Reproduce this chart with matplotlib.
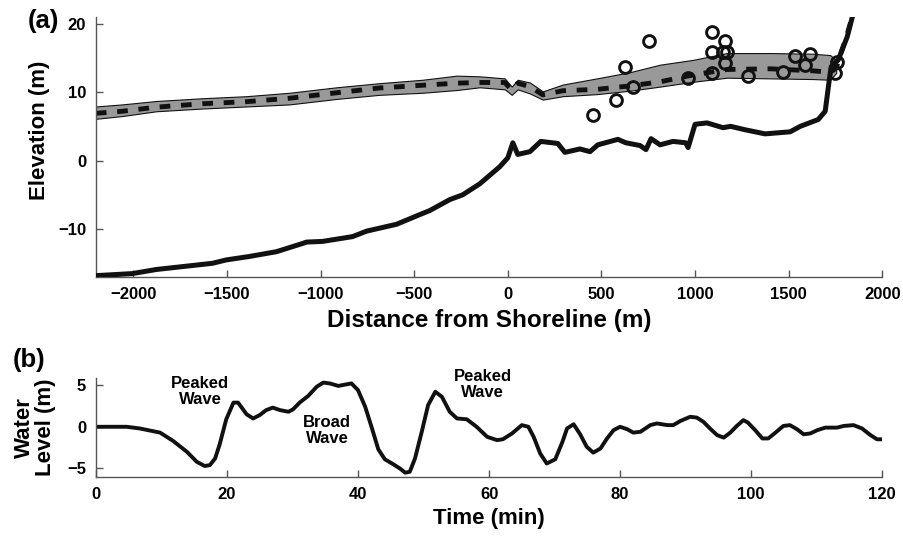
import matplotlib
matplotlib.use('Agg')
import matplotlib.pyplot as plt
import numpy as np

plt.rcParams['font.family'] = ['Liberation Sans', 'DejaVu Sans']
plt.rcParams['font.weight'] = 'bold'
plt.rcParams['axes.labelweight'] = 'bold'

# ---- panel (a): cross-shore profile ----
topo_x = [-2200, -2005, -1877, -1578, -1503, -1380, -1235, -1096, -1075, -989,
          -829, -754, -594, -471, -417, -310, -241, -150, -43, 0, 27, 53, 118,
          176, 267, 305, 385, 439, 481, 588, 630, 706, 738, 765, 813, 882, 950,
          963, 1000, 1064, 1150, 1190, 1267, 1374, 1508, 1562, 1658, 1695,
          1717, 1727, 1765, 1813, 1845]
topo_y = [-16.8, -16.5, -15.9, -15.0, -14.5, -14.0, -13.3, -12.1, -11.9, -11.8,
          -11.1, -10.3, -9.3, -7.9, -7.3, -5.7, -5.0, -3.4, -0.9, 0.4, 2.6, 0.9,
          1.3, 2.8, 2.5, 1.2, 1.7, 1.3, 2.3, 3.1, 2.6, 2.2, 1.6, 3.2, 2.3, 2.8,
          2.6, 1.9, 5.3, 5.5, 4.8, 5.0, 4.5, 3.9, 4.2, 5.0, 6.0, 7.2,
          11.8, 13.7, 14.7, 18.1, 21.5]

band_x = [-2200, -2059, -1877, -1631, -1396, -1166, -914, -685, -455, -273,
          -150, -16, 21, 53, 118, 187, 294, 476, 652, 813, 989, 1171, 1401,
          1631, 1722, 1754]
band_hi = [7.9, 8.2, 8.7, 9.1, 9.4, 9.9, 10.7, 11.3, 11.8, 12.4,
           12.3, 12.0, 10.8, 11.8, 11.4, 10.1, 11.1, 12.0, 12.9, 14.0, 14.7,
           15.7, 15.7, 15.6, 15.4, 14.6]
band_lo = [6.1, 6.5, 7.2, 7.6, 7.9, 8.2, 9.0, 9.6, 9.9, 10.3,
           10.7, 10.4, 9.6, 10.4, 9.8, 8.9, 9.4, 9.7, 10.2, 10.8, 11.5,
           12.1, 12.0, 11.9, 11.8, 12.8]

mean_x = [-2200, -2059, -1877, -1631, -1396, -1166, -914, -685, -455, -273,
          -150, -16, 21, 53, 118, 187, 294, 476, 652, 813, 989, 1171, 1401,
          1631, 1722, 1754, 1776, 1802, 1845]
mean_y = [6.9, 7.2, 7.8, 8.3, 8.6, 9.1, 9.9, 10.6, 11.0, 11.3,
          11.4, 11.4, 10.3, 11.3, 10.8, 9.6, 10.2, 10.4, 10.9, 11.5, 12.5,
          13.3, 13.4, 13.1, 12.9, 13.5, 15.5, 17.5, 21.5]

obs_x = [455, 578, 626, 668, 754, 963, 1091, 1091, 1091, 1150, 1171, 1160,
         1160, 1284, 1471, 1535, 1588, 1615, 1749, 1760]
obs_y = [6.7, 8.8, 13.6, 10.8, 17.5, 12.1, 18.7, 15.8, 12.8, 15.8, 15.8, 17.4,
         14.3, 12.3, 13.0, 15.2, 14.0, 15.5, 12.8, 14.4]

# ---- panel (b): water level time series ----
t_min = [0, 4.7, 6.7, 9.8, 11.8, 13.9, 15.4, 16.6, 17.4, 18.2, 18.9, 19.9,
         21.0, 21.7, 23.0, 24.0, 25.0, 26.0, 27.0, 28.1, 29.4, 30.1, 31.1,
         32.4, 33.7, 34.7, 35.7, 37.0, 38.3, 39.0, 40.0, 41.1, 42.1, 43.1,
         44.1, 45.4, 46.4, 47.2, 47.9, 48.7, 49.7, 50.7, 51.8, 52.8, 54.0,
         55.1, 56.6, 58.1, 59.7, 61.2, 62.1, 63.5, 65.0, 66.0, 66.8, 67.8,
         68.8, 70.1, 71.2, 71.9, 72.9, 73.9, 74.9, 75.9, 77.0, 78.0, 79.0,
         80.0, 81.1, 82.0, 83.1, 84.6, 85.6, 87.2, 88.1, 89.2, 90.7, 91.7,
         92.7, 93.7, 94.8, 95.8, 96.8, 97.8, 98.8, 99.5, 100.6, 101.7, 102.6,
         103.7, 104.9, 105.9, 107.0, 108.0, 109.0, 110.1, 111.3, 113.1, 114.1,
         115.6, 116.9, 118.2, 119.2, 120.0]
level = [0, 0, -0.2, -0.7, -1.7, -3.0, -4.2, -4.7, -4.6, -3.8, -2.1, 0.9,
         2.9, 2.9, 1.5, 1.0, 1.4, 2.0, 2.3, 2.0, 1.8, 2.1, 2.9,
         3.7, 4.8, 5.3, 5.2, 4.9, 5.1, 5.2, 4.4, 2.4, -0.1, -2.7,
         -3.9, -4.5, -5.0, -5.5, -5.4, -3.8, -0.7, 2.6, 4.2, 3.6, 1.8,
         1.0, 0.9, 0.0, -1.2, -1.6, -1.5, -0.8, 0.2, 0.0, -1.2, -3.2,
         -4.4, -3.9, -1.8, -0.2, 0.3, -0.9, -2.4, -3.1, -2.6, -1.4, -0.4,
         0.0, -0.3, -0.7, -0.6, 0.2, 0.4, 0.2, 0.2, 0.7, 1.2, 1.1,
         0.6, -0.2, -1.0, -1.3, -0.7, 0.1, 0.8, 0.5, -0.4, -1.4, -1.4,
         -0.7, 0.1, 0.2, -0.3, -0.9, -0.8, -0.4, -0.1, -0.1, 0.1,
         0.2, -0.2, -1.0, -1.5, -1.5]

notes = ['Peaked\nWave', 'Broad\nWave', 'Peaked\nWave']
note_t = [15.9, 35.3, 59.0]
note_y = [4.2, -0.4, 5.1]


def style_axes(ax):
    for side in ('top', 'right'):
        ax.spines[side].set_visible(False)
    for side in ('left', 'bottom'):
        ax.spines[side].set_color('#555555')
        ax.spines[side].set_linewidth(1.0)
    ax.tick_params(direction='in', length=5, width=1, color='#555555',
                   labelsize=12, pad=7)
    for lbl in ax.get_xticklabels() + ax.get_yticklabels():
        lbl.set_fontweight('bold')


fig = plt.figure(figsize=(9.04, 5.4), dpi=100)

ax1 = fig.add_axes([0.106, 0.487, 0.870, 0.482])
ax1.fill_between(band_x, band_lo, band_hi, facecolor='#999999',
                 edgecolor='#111111', linewidth=0.8, zorder=1)
ax1.plot(mean_x, mean_y, color='#111111', linewidth=3.5,
         dashes=(2.2, 2.2), dash_capstyle='butt', zorder=2)
ax1.plot(topo_x, topo_y, color='#111111', linewidth=3.6, zorder=3)
ax1.plot(obs_x, obs_y, linestyle='none', marker='o', markersize=8.5,
         markerfacecolor='none', markeredgecolor='#111111',
         markeredgewidth=2.1, zorder=4)
ax1.set_xlim(-2200, 2000)
ax1.set_ylim(-17, 21)
ax1.set_xticks(np.arange(-2000, 2001, 500))
ax1.set_yticks([-10, 0, 10, 20])
ax1.set_xlabel('Distance from Shoreline (m)', fontsize=17.5, labelpad=5)
ax1.set_ylabel('Elevation (m)', fontsize=16)
ax1.yaxis.set_label_coords(-0.0585, 0.565)
style_axes(ax1)

ax2 = fig.add_axes([0.106, 0.117, 0.870, 0.183])
ax2.plot(t_min, level, color='#111111', linewidth=2.8)
for txt, tx, ty in zip(notes, note_t, note_y):
    ax2.text(tx, ty, txt, ha='center', va='center', fontsize=12,
             fontweight='bold', linespacing=1.1)
ax2.set_xlim(0, 120)
ax2.set_ylim(-6, 5.85)
ax2.set_xticks(np.arange(0, 121, 20))
ax2.set_yticks([-5, 0, 5])
ax2.set_xlabel('Time (min)', fontsize=16, labelpad=5)
ax2.set_ylabel('Water\nLevel (m)', fontsize=16, linespacing=1.0)
ax2.yaxis.set_label_coords(-0.051, 0.5)
style_axes(ax2)

fig.text(0.031, 0.961, '(a)', fontsize=18.5, fontweight='bold', va='center')
fig.text(0.014, 0.333, '(b)', fontsize=18.5, fontweight='bold', va='center')

fig.savefig('out.png', dpi=100)
